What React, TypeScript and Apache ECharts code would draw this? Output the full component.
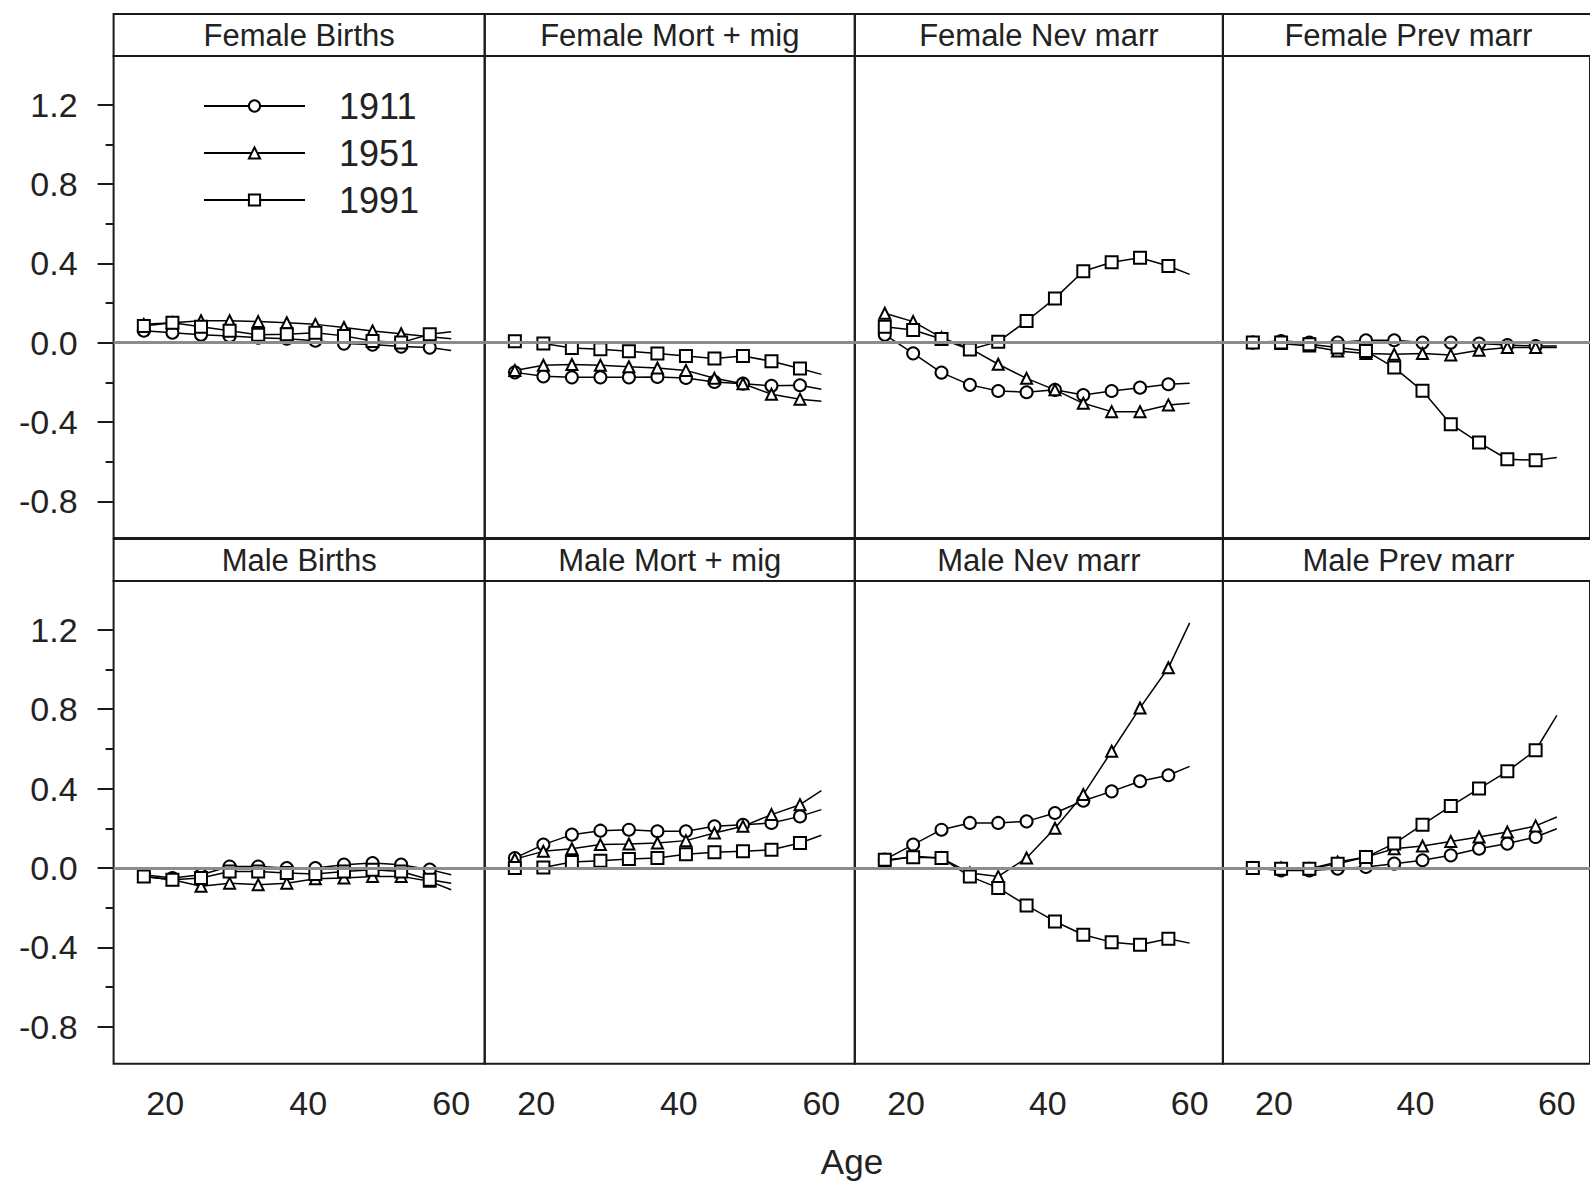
import { useEffect, useRef } from 'react';
import * as echarts from 'echarts';

// ---- data ----
const ages = [17, 21, 25, 29, 33, 37, 41, 45, 49, 53, 57, 60];
const years = ['1911', '1951', '1991'];
const panelTitles = [
  'Female Births', 'Female Mort + mig', 'Female Nev marr', 'Female Prev marr',
  'Male Births', 'Male Mort + mig', 'Male Nev marr', 'Male Prev marr',
];
const xTickValues = [20, 40, 60];
const yMajorValues = [-0.8, -0.4, 0, 0.4, 0.8, 1.2];
const yMinorValues = [-0.6, -0.2, 0.2, 0.6, 1.0];

const fBirths1911 = [0.06, 0.05, 0.04, 0.034, 0.025, 0.02, 0.01, -0.005, -0.01, -0.02, -0.025, -0.04];
const fBirths1951 = [0.092, 0.1, 0.11, 0.11, 0.106, 0.1, 0.092, 0.076, 0.059, 0.045, 0.03, 0.02];
const fBirths1991 = [0.084, 0.1, 0.08, 0.06, 0.04, 0.042, 0.05, 0.034, 0.008, 0.0, 0.042, 0.055];

const fMort1911 = [-0.15, -0.17, -0.175, -0.175, -0.175, -0.173, -0.178, -0.198, -0.207, -0.218, -0.215, -0.235];
const fMort1951 = [-0.14, -0.114, -0.11, -0.114, -0.122, -0.128, -0.14, -0.18, -0.207, -0.26, -0.285, -0.296];
const fMort1991 = [0.007, -0.005, -0.027, -0.034, -0.044, -0.055, -0.067, -0.08, -0.067, -0.094, -0.13, -0.16];

const fNev1911 = [0.04, -0.054, -0.151, -0.213, -0.244, -0.25, -0.238, -0.264, -0.244, -0.227, -0.21, -0.205];
const fNev1951 = [0.148, 0.106, 0.025, -0.029, -0.109, -0.18, -0.238, -0.306, -0.348, -0.348, -0.314, -0.306];
const fNev1991 = [0.08, 0.064, 0.018, -0.035, 0.005, 0.109, 0.223, 0.36, 0.405, 0.428, 0.386, 0.344];

const fPrev1911 = [0, 0.008, 0, 0, 0.012, 0.012, 0, 0, -0.005, -0.012, -0.017, -0.017];
const fPrev1951 = [0, -0.005, -0.017, -0.042, -0.055, -0.059, -0.055, -0.062, -0.039, -0.025, -0.025, -0.025];
const fPrev1991 = [0, 0, -0.008, -0.025, -0.042, -0.126, -0.243, -0.411, -0.504, -0.588, -0.593, -0.579];

const mBirths1911 = [-0.034, -0.05, -0.034, 0.008, 0.008, 0, 0, 0.017, 0.025, 0.017, -0.008, -0.034];
const mBirths1951 = [-0.042, -0.059, -0.092, -0.076, -0.084, -0.076, -0.054, -0.05, -0.042, -0.042, -0.067, -0.109];
const mBirths1991 = [-0.042, -0.059, -0.05, -0.017, -0.017, -0.025, -0.03, -0.017, -0.008, -0.017, -0.059, -0.076];

const mMort1911 = [0.05, 0.118, 0.168, 0.188, 0.193, 0.185, 0.185, 0.21, 0.218, 0.227, 0.26, 0.294];
const mMort1951 = [0.045, 0.084, 0.097, 0.118, 0.121, 0.126, 0.138, 0.176, 0.21, 0.269, 0.319, 0.39];
const mMort1991 = [0.0, 0.003, 0.03, 0.037, 0.045, 0.05, 0.07, 0.08, 0.084, 0.092, 0.126, 0.165];

const mNev1911 = [0.042, 0.118, 0.193, 0.227, 0.227, 0.235, 0.277, 0.339, 0.386, 0.437, 0.467, 0.512];
const mNev1951 = [0.034, 0.059, 0.05, -0.025, -0.042, 0.05, 0.2, 0.37, 0.588, 0.806, 1.008, 1.234];
const mNev1991 = [0.042, 0.054, 0.05, -0.042, -0.1, -0.188, -0.269, -0.336, -0.373, -0.386, -0.356, -0.378];

const mPrev1911 = [0, -0.012, -0.012, -0.003, 0.005, 0.022, 0.039, 0.064, 0.097, 0.123, 0.156, 0.198];
const mPrev1951 = [0, 0, -0.003, 0.03, 0.055, 0.097, 0.111, 0.134, 0.156, 0.181, 0.212, 0.257];
const mPrev1991 = [0, -0.003, -0.003, 0.022, 0.055, 0.123, 0.218, 0.312, 0.4, 0.487, 0.593, 0.769];

const panelSeries = [
  [fBirths1911, fBirths1951, fBirths1991],
  [fMort1911, fMort1951, fMort1991],
  [fNev1911, fNev1951, fNev1991],
  [fPrev1911, fPrev1951, fPrev1991],
  [mBirths1911, mBirths1951, mBirths1991],
  [mMort1911, mMort1951, mMort1991],
  [mNev1911, mNev1951, mNev1991],
  [mPrev1911, mPrev1951, mPrev1991],
];

// ---- layout / style ----
const FONT = 'Liberation Sans, Arial, sans-serif';
const INK = '#1a1a1a';
const COL_LEFT = [113.6, 484.7, 854.8, 1222.9];
const COL_WIDTH = [371.1, 370.1, 368.1, 371];
const ROW_TOP = [56, 581];
const ROW_HEIGHT = [482, 482.7];
const STRIP_H = 42;
const X_MIN = 12.77;
const X_MAX = 64.69;
const Y_MIN = -0.985;
const Y_MAX = 1.445;
const SYMBOLS = ['emptyCircle', 'emptyTriangle', 'emptyRect'];
const SYMBOL_SIZE = [12, 11, 12];

export default function App() {
  const ref = useRef<HTMLDivElement>(null);

  useEffect(() => {
    const chart = echarts.init(ref.current!, null, { renderer: 'svg' });
    const grids: any[] = [];
    const xAxes: any[] = [];
    const yAxes: any[] = [];
    const series: any[] = [];
    const graphics: any[] = [];

    panelTitles.forEach((title, i) => {
      const row = Math.floor(i / 4);
      const col = i % 4;
      grids.push({
        left: COL_LEFT[col],
        top: ROW_TOP[row],
        width: COL_WIDTH[col],
        height: ROW_HEIGHT[row],
        show: true,
        borderColor: INK,
        borderWidth: 2,
        backgroundColor: 'transparent',
      });
      xAxes.push({
        type: 'value',
        gridIndex: i,
        position: 'bottom',
        min: X_MIN,
        max: X_MAX,
        axisLine: { show: false },
        axisTick: { show: false },
        splitLine: { show: false },
        axisLabel:
          row === 1
            ? {
                show: true,
                customValues: xTickValues,
                margin: 22,
                fontSize: 34,
                fontFamily: FONT,
                color: '#222',
              }
            : { show: false },
      });
      yAxes.push({
        type: 'value',
        gridIndex: i,
        position: 'left',
        min: Y_MIN,
        max: Y_MAX,
        splitLine: { show: false },
        axisLine: { show: false },
        axisTick:
          col === 0
            ? { show: true, customValues: yMajorValues, length: 16, lineStyle: { color: INK, width: 2 } }
            : { show: false },
        axisLabel:
          col === 0
            ? {
                show: true,
                customValues: yMajorValues,
                formatter: (v: number) => v.toFixed(1),
                margin: 36,
                fontSize: 34,
                fontFamily: FONT,
                color: '#222',
              }
            : { show: false },
      });
      yAxes.push({
        type: 'value',
        gridIndex: i,
        position: 'left',
        offset: 0,
        min: Y_MIN,
        max: Y_MAX,
        splitLine: { show: false },
        axisLine: { show: false },
        axisTick:
          col === 0
            ? { show: true, customValues: yMinorValues, length: 8, lineStyle: { color: INK, width: 2 } }
            : { show: false },
        axisLabel: { show: false },
      });

      panelSeries[i].forEach((vals, k) => {
        const s: any = {
          type: 'line',
          name: years[k],
          xAxisIndex: i,
          yAxisIndex: 2 * i,
          symbol: SYMBOLS[k],
          symbolSize: SYMBOL_SIZE[k],
          showAllSymbol: true,
          lineStyle: { color: '#000', width: 1.5 },
          itemStyle: { color: '#000', borderWidth: 1.5 },
          emphasis: { disabled: true },
          z: 3,
          data: ages.map((a, j) => (a === 60 ? { value: [a, vals[j]], symbol: 'none' } : { value: [a, vals[j]] })),
        };
        if (k === 2) {
          s.markLine = {
            silent: true,
            symbol: ['none', 'none'],
            label: { show: false },
            lineStyle: { color: '#8c8c8c', width: 3, type: 'solid' },
            data: [{ yAxis: 0 }],
          };
        }
        series.push(s);
      });

      graphics.push({
        type: 'rect',
        shape: { x: COL_LEFT[col], y: ROW_TOP[row] - STRIP_H, width: COL_WIDTH[col], height: STRIP_H },
        style: { fill: 'none', stroke: INK, lineWidth: 2 },
        silent: true,
      });
      graphics.push({
        type: 'text',
        x: COL_LEFT[col] + COL_WIDTH[col] / 2,
        y: ROW_TOP[row] - STRIP_H / 2,
        style: {
          text: title,
          fontSize: 31,
          fontFamily: FONT,
          fill: '#222',
          textAlign: 'center',
          textVerticalAlign: 'middle',
        },
        silent: true,
      });
    });

    graphics.push({
      type: 'text',
      x: 852,
      y: 1161,
      style: {
        text: 'Age',
        fontSize: 35,
        fontFamily: FONT,
        fill: '#222',
        textAlign: 'center',
        textVerticalAlign: 'middle',
      },
      silent: true,
    });

    chart.setOption({
      animation: false,
      backgroundColor: '#fff',
      grid: grids,
      xAxis: xAxes,
      yAxis: yAxes,
      series,
      legend: {
        data: years,
        orient: 'vertical',
        left: 203,
        top: 88,
        padding: 0,
        itemWidth: 101,
        itemHeight: 14,
        itemGap: 11,
        selectedMode: false,
        textStyle: { fontSize: 36, fontFamily: FONT, color: '#222', padding: [0, 0, 0, 29] },
      },
      graphic: graphics,
    });

    return () => chart.dispose();
  }, []);

  return <div ref={ref} style={{ position: 'absolute', left: 0, top: 0, width: 1590, height: 1182 }} />;
}
